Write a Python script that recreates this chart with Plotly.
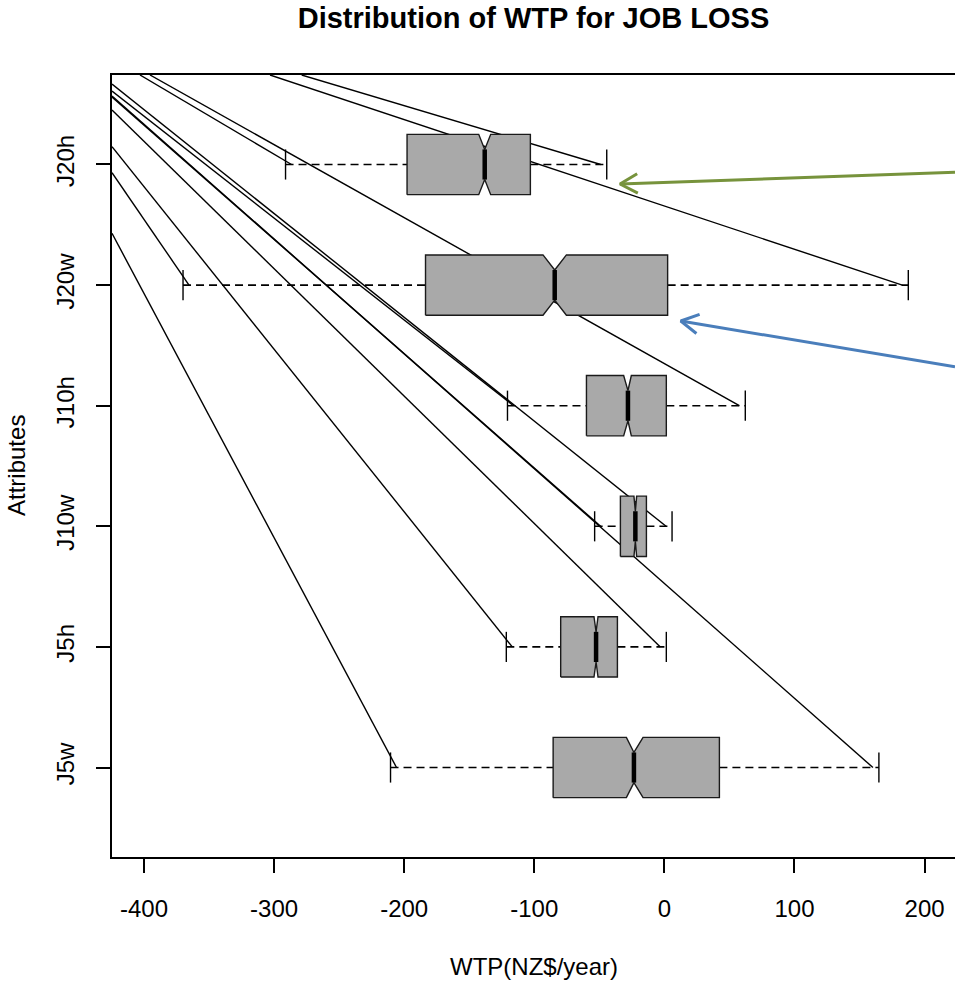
import math
import plotly.graph_objects as go

# ---- data -------------------------------------------------------------
categories = ["J5w", "J5h", "J10w", "J10h", "J20w", "J20h"]
whisker_low = [-210.5, -121.5, -53.6, -120.6, -370.0, -291.2]
hinge_low = [-85.5, -79.7, -33.8, -59.9, -183.6, -197.8]
notch_low = [-29.2, -54.1, -23.4, -31.3, -93.3, -142.7]
medians = [-23.4, -52.5, -22.3, -28.0, -84.3, -138.1]
notch_high = [-16.4, -51.0, -21.3, -25.4, -75.3, -133.5]
hinge_high = [42.3, -36.1, -13.8, 1.5, 2.5, -103.0]
whisker_high = [164.9, 1.5, 5.9, 62.2, 187.5, -44.3]

x_ticks = [-400, -300, -200, -100, 0, 100, 200]

# leader lines: where each one enters the plotting region (data units)
lead_low_x = [-424.6, -424.6, -424.6, -424.6, -424.6, -403.1]
lead_low_y = [5.429, 6.148, 6.560, 6.609, 5.932, 6.742]
lead_high_x = [-424.6, -424.6, -424.6, -395.4, -303.1, -278.8]
lead_high_y = [6.568, 6.452, 6.666, 6.742, 6.742, 6.742]

# callout arrows (tail at the right edge, tip near the boxes)
arrow_tail_x = [223.4, 223.4]
arrow_tail_y = [5.935, 4.323]
arrow_tip_x = [-34.1, 12.6]
arrow_tip_y = [5.838, 4.702]
arrow_colors = ["#77933C", "#4A7EBB"]

# ---- geometry -----------------------------------------------------------
W, H = 955, 981
ML, MR, MT, MB = 112, 0, 75, 124
X_RANGE = [-424.6, 223.4]
Y_RANGE = [0.258, 6.742]
PW, PH = W - ML - MR, H - MT - MB

BOX_HALF = 0.25
NOTCH_HALF = 0.125
CAP_HALF = 0.125
LEAD_INSET = 4.6  # leader lines stop just inside the whisker caps


def to_px(x, y):
    px = ML + (x - X_RANGE[0]) / (X_RANGE[1] - X_RANGE[0]) * PW
    py = MT + (Y_RANGE[1] - y) / (Y_RANGE[1] - Y_RANGE[0]) * PH
    return px, py


def to_data(px, py):
    x = X_RANGE[0] + (px - ML) / PW * (X_RANGE[1] - X_RANGE[0])
    y = Y_RANGE[1] - (py - MT) / PH * (Y_RANGE[1] - Y_RANGE[0])
    return x, y


fig = go.Figure()
INK = "#000000"

# leader lines
lx, ly = [], []
for i in range(len(categories)):
    pos = i + 1
    lx += [lead_low_x[i], whisker_low[i] + LEAD_INSET, None]
    ly += [lead_low_y[i], pos, None]
    lx += [lead_high_x[i], whisker_high[i] - LEAD_INSET, None]
    ly += [lead_high_y[i], pos, None]
fig.add_trace(go.Scatter(x=lx, y=ly, mode="lines",
                         line=dict(color=INK, width=1.4), hoverinfo="skip"))

for i in range(len(categories)):
    pos = i + 1
    # dashed whiskers
    fig.add_trace(go.Scatter(
        x=[whisker_low[i], hinge_low[i], None, hinge_high[i], whisker_high[i]],
        y=[pos, pos, None, pos, pos], mode="lines",
        line=dict(color=INK, width=1.6, dash="8px,5px"), hoverinfo="skip"))
    # staples
    fig.add_trace(go.Scatter(
        x=[whisker_low[i], whisker_low[i], None, whisker_high[i], whisker_high[i]],
        y=[pos - CAP_HALF, pos + CAP_HALF, None, pos - CAP_HALF, pos + CAP_HALF],
        mode="lines", line=dict(color=INK, width=1.4), hoverinfo="skip"))
    # notched box
    bx = [hinge_low[i], notch_low[i], medians[i], notch_high[i], hinge_high[i],
          hinge_high[i], notch_high[i], medians[i], notch_low[i], hinge_low[i],
          hinge_low[i]]
    by = [pos - BOX_HALF, pos - BOX_HALF, pos - NOTCH_HALF, pos - BOX_HALF,
          pos - BOX_HALF, pos + BOX_HALF, pos + BOX_HALF, pos + NOTCH_HALF,
          pos + BOX_HALF, pos + BOX_HALF, pos - BOX_HALF]
    fig.add_trace(go.Scatter(x=bx, y=by, mode="lines", fill="toself",
                             fillcolor="#A9A9A9",
                             line=dict(color="#1a1a1a", width=1.4),
                             hoverinfo="skip"))
    # median
    fig.add_trace(go.Scatter(x=[medians[i], medians[i]],
                             y=[pos - NOTCH_HALF, pos + NOTCH_HALF],
                             mode="lines", line=dict(color=INK, width=4.5),
                             hoverinfo="skip"))

# callout arrows with open heads
HEAD_LEN, HEAD_ANG = 20.0, math.radians(29)
for tx, ty, hx, hy, col in zip(arrow_tail_x, arrow_tail_y, arrow_tip_x,
                               arrow_tip_y, arrow_colors):
    fig.add_trace(go.Scatter(x=[tx, hx], y=[ty, hy], mode="lines",
                             line=dict(color=col, width=3), hoverinfo="skip"))
    tpx, tpy = to_px(tx, ty)
    hpx, hpy = to_px(hx, hy)
    ang = math.atan2(tpy - hpy, tpx - hpx)
    wings = []
    for s in (-1, 1):
        a = ang + s * HEAD_ANG
        wings.append(to_data(hpx + HEAD_LEN * math.cos(a),
                             hpy + HEAD_LEN * math.sin(a)))
    fig.add_trace(go.Scatter(x=[wings[0][0], hx, wings[1][0]],
                             y=[wings[0][1], hy, wings[1][1]], mode="lines",
                             line=dict(color=col, width=3), hoverinfo="skip"))

FONT = "Liberation Sans, Arial, Helvetica, sans-serif"
fig.update_layout(
    width=W, height=H,
    margin=dict(l=ML, r=MR, t=MT, b=MB, pad=0),
    paper_bgcolor="white", plot_bgcolor="white",
    showlegend=False,
    font=dict(family=FONT, size=24, color="black"),
    title=dict(text="<b>Distribution of WTP for JOB LOSS</b>",
               x=0.5, xref="paper", xanchor="center",
               y=(H - 18) / H, yref="container", yanchor="middle",
               font=dict(family=FONT, size=29, color="black")),
    xaxis=dict(range=X_RANGE, tickvals=x_ticks,
               ticktext=[str(v) for v in x_ticks],
               showgrid=False, zeroline=False,
               showline=True, mirror=True, linecolor="black", linewidth=1.5,
               ticks="outside", ticklen=14, tickwidth=1.5, tickcolor="black",
               ticklabelstandoff=15,
               tickfont=dict(size=24, family=FONT, color="black")),
    yaxis=dict(range=Y_RANGE, tickvals=list(range(1, len(categories) + 1)),
               ticktext=categories, tickangle=-90,
               showgrid=False, zeroline=False,
               showline=True, mirror=False, linecolor="black", linewidth=1.5,
               ticks="outside", ticklen=14, tickwidth=1.5, tickcolor="black",
               ticklabelstandoff=13,
               tickfont=dict(size=24, family=FONT, color="black")),
    annotations=[
        dict(text="WTP(NZ$/year)", xref="paper", yref="paper",
             x=0.5, y=-(966 - (MT + PH)) / PH, xanchor="center",
             yanchor="middle", showarrow=False,
             font=dict(size=24, family=FONT, color="black")),
        dict(text="Attributes", xref="paper", yref="paper",
             x=(16 - ML) / PW, y=0.5, xanchor="center", yanchor="middle",
             textangle=-90, showarrow=False,
             font=dict(size=24, family=FONT, color="black")),
    ],
)

fig.write_html("out.html")
